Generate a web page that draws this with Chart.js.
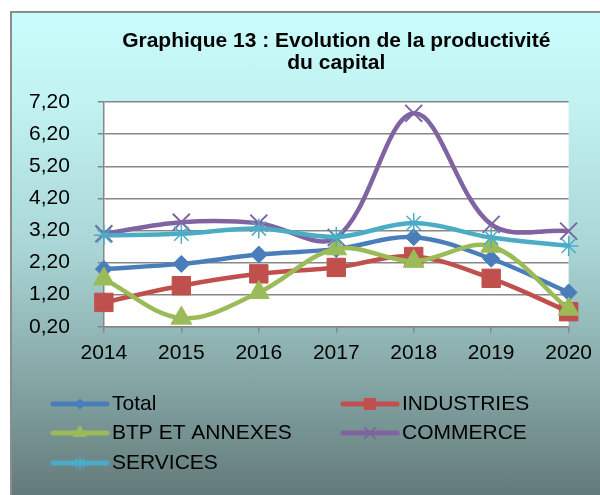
<!DOCTYPE html>
<html>
<head>
<meta charset="utf-8">
<title>Graphique 13</title>
<script src="https://cdn.jsdelivr.net/npm/chart.js@4"></script>
<style>
    body { margin: 0; width: 600px; height: 495px; overflow: hidden; background: #fff; }
    .frame {
        position: absolute; left: 10px; top: 11px; width: 610px; height: 500px;
        border: 2px solid #8c8c8c; box-sizing: border-box;
        background: linear-gradient(to bottom, #c9fcfc 0%, #c2f2f2 18%, #a9d5d5 48%, #83a4a3 75%, #5f7575 100%);
    }
    #wrap { position: absolute; left: 0; top: 0; width: 600px; height: 495px; }
</style>
</head>
<body>
<div class="frame"></div>
<div id="wrap"><canvas id="chart" width="600" height="495"></canvas></div>
<script>
    const years = ['2014', '2015', '2016', '2017', '2018', '2019', '2020'];
    const total = [2.00, 2.16, 2.45, 2.62, 2.99, 2.32, 1.27];
    const industries = [0.96, 1.48, 1.85, 2.05, 2.39, 1.71, 0.67];
    const btp = [1.69, 0.47, 1.27, 2.63, 2.24, 2.71, 0.75];
    const commerce = [3.10, 3.46, 3.43, 2.98, 6.85, 3.39, 3.18];
    const services = [3.05, 3.10, 3.26, 3.00, 3.43, 2.98, 2.72];
    const yTicks = [0.2, 1.2, 2.2, 3.2, 4.2, 5.2, 6.2, 7.2];

    const gridColor = '#878787';
    const font = '"Liberation Sans", Arial, sans-serif';

    function series(label, data, color, style, radius, order, pointBorder) {
        return {
            label: label,
            data: data,
            borderColor: color,
            backgroundColor: color,
            pointBackgroundColor: color,
            pointBorderColor: color,
            borderWidth: 4.5,
            tension: 0.35,
            pointStyle: style,
            pointRadius: radius,
            pointHoverRadius: radius,
            pointBorderWidth: pointBorder,
            order: order,
            clip: false
        };
    }

    // white plot area, drawn before the grid
    const plotBg = {
        id: 'plotBg',
        beforeDraw(chart) {
            const a = chart.chartArea;
            chart.ctx.save();
            chart.ctx.fillStyle = '#ffffff';
            chart.ctx.fillRect(a.left, a.top, a.right - a.left, a.bottom - a.top);
            chart.ctx.restore();
        }
    };

    // legend in two columns, like the Excel one
    const legendCols = [53, 343];
    const legendRows = [404, 433, 463];
    const legendGrid = {
        id: 'legendGrid',
        afterDraw(chart) {
            const ctx = chart.ctx;
            chart.data.datasets.forEach((ds, i) => {
                const x = legendCols[i % 2];
                const y = legendRows[Math.floor(i / 2)];
                ctx.save();
                ctx.strokeStyle = ds.borderColor;
                ctx.lineWidth = 5;
                ctx.lineCap = 'round';
                ctx.beginPath();
                ctx.moveTo(x, y);
                ctx.lineTo(x + 54, y);
                ctx.stroke();
                ctx.fillStyle = ds.borderColor;
                ctx.lineWidth = ds.pointBorderWidth;
                Chart.helpers.drawPoint(ctx, {
                    pointStyle: ds.pointStyle,
                    radius: ds.pointRadius * 0.6,
                    borderWidth: ds.pointBorderWidth,
                    rotation: 0
                }, x + 27, y);
                ctx.fillStyle = '#000';
                ctx.font = '21px ' + font;
                ctx.textBaseline = 'middle';
                ctx.fillText(ds.label, x + 59, y);
                ctx.restore();
            });
        }
    };

    new Chart(document.getElementById('chart'), {
        type: 'line',
        data: {
            labels: years,
            datasets: [
                series('Total', total, '#4a7ebb', 'rectRot', 8.5, 5, 1),
                series('INDUSTRIES', industries, '#c0504d', 'rect', 13, 4, 1),
                series('BTP ET ANNEXES', btp, '#9bbb59', 'triangle', 12, 3, 1),
                series('COMMERCE', commerce, '#8064a2', 'crossRot', 12, 2, 2),
                series('SERVICES', services, '#4bacc6', 'star', 10, 1, 1.5)
            ]
        },
        options: {
            responsive: false,
            animation: false,
            layout: { padding: { left: 1, right: 27, top: 0, bottom: 121 } },
            plugins: {
                legend: { display: false },
                tooltip: { enabled: false },
                title: {
                    display: true,
                    fullSize: false,
                    text: ['Graphique 13 : Evolution de la productivité', 'du capital'],
                    color: '#000',
                    font: { family: font, size: 21, weight: 'bold', lineHeight: 1.05 },
                    padding: { top: 30, bottom: 28 }
                }
            },
            scales: {
                x: {
                    offset: false,
                    grid: { drawOnChartArea: false, color: gridColor, lineWidth: 1.5, tickLength: 6 },
                    border: { color: gridColor, width: 1.5 },
                    ticks: { color: '#000', font: { family: font, size: 21 }, padding: 8, maxRotation: 0, autoSkip: false }
                },
                y: {
                    min: 0.2,
                    max: 7.2,
                    afterBuildTicks: scale => { scale.ticks = yTicks.map(v => ({ value: v })); },
                    grid: { color: gridColor, lineWidth: 1.5, tickLength: 6 },
                    border: { color: gridColor, width: 1.5 },
                    ticks: {
                        color: '#000',
                        font: { family: font, size: 21 },
                        padding: 28,
                        callback: v => v.toFixed(2).replace('.', ',')
                    }
                }
            }
        },
        plugins: [plotBg, legendGrid]
    });
</script>
</body>
</html>
